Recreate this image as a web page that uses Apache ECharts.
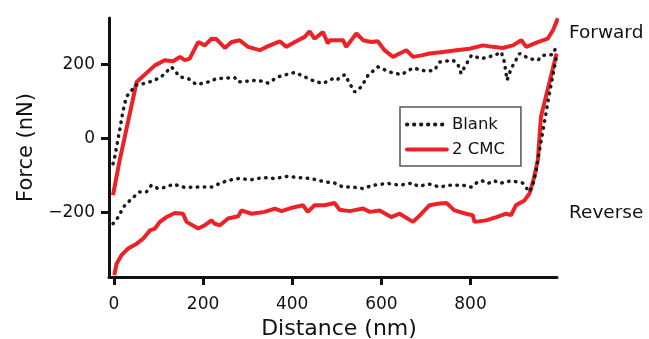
<!DOCTYPE html>
<html>
<head>
<meta charset="utf-8">
<script src="https://cdn.jsdelivr.net/npm/echarts@6/dist/echarts.min.js"></script>
<style>
html,body{margin:0;padding:0;background:#fff;}
#chart{width:649px;height:339px;}
</style>
</head>
<body>
<div id="chart"></div>
<script>
const xTicks = [0, 200, 400, 600, 800];
const yTicks = [-200, 0, 200];
const legendNames = ['Blank', '2 CMC'];

const blankForward = [[-2,-69],[2,-50],[13,22],[20,71],[28,112],[32,116],[43,134],[47,143],[69,148],[92,157],[110,170],[129,193],[148,166],[167,161],[185,145],[211,152],[230,161],[271,164],[279,152],[323,157],[346,149],[368,166],[406,178],[428,166],[450,154],[469,148],[491,161],[499,157],[518,172],[529,148],[540,125],[555,139],[570,170],[592,193],[619,179],[645,172],[671,190],[701,181],[719,184],[731,206],[760,211],[771,202],[779,175],[787,193],[802,224],[824,215],[854,224],[869,233],[876,206],[882,157],[891,188],[910,229],[932,215],[951,211],[962,224],[985,226],[994,253]];

const blankReverse = [[-2,-231],[10,-213],[21,-186],[40,-163],[58,-145],[73,-145],[84,-127],[99,-136],[118,-132],[133,-124],[159,-133],[189,-132],[219,-132],[238,-122],[256,-114],[279,-109],[309,-112],[335,-106],[361,-109],[387,-103],[413,-106],[443,-109],[473,-118],[495,-121],[514,-132],[536,-132],[559,-136],[581,-127],[615,-122],[641,-127],[671,-121],[682,-130],[708,-124],[731,-132],[753,-127],[783,-127],[802,-132],[813,-121],[824,-114],[839,-122],[854,-115],[865,-122],[891,-115],[917,-121],[932,-145],[938,-132],[947,-91],[951,-59],[977,121],[993,222]];

const cmcForward = [[-2,-154],[13,-59],[51,152],[92,197],[114,211],[133,208],[148,220],[159,211],[170,215],[189,260],[204,251],[219,269],[230,268],[249,244],[264,260],[282,265],[301,247],[327,238],[346,249],[372,262],[387,247],[409,262],[428,274],[439,289],[450,269],[469,287],[480,256],[484,265],[514,265],[521,247],[544,283],[559,265],[577,260],[592,262],[607,238],[626,220],[641,229],[656,238],[671,220],[690,224],[708,229],[738,233],[768,238],[798,242],[828,251],[850,247],[872,244],[895,251],[914,265],[925,247],[951,260],[973,269],[985,292],[996,324]];

const cmcReverse = [[1,-370],[6,-339],[17,-316],[32,-298],[51,-285],[66,-271],[81,-249],[92,-244],[103,-226],[118,-213],[137,-202],[155,-204],[163,-226],[189,-244],[204,-235],[219,-222],[226,-231],[238,-235],[256,-217],[279,-211],[286,-195],[309,-204],[338,-199],[361,-190],[376,-197],[402,-187],[424,-181],[435,-199],[450,-181],[473,-181],[495,-175],[506,-193],[529,-197],[559,-190],[574,-199],[596,-195],[622,-213],[641,-204],[671,-226],[690,-204],[708,-181],[727,-177],[746,-175],[764,-195],[790,-204],[805,-208],[809,-226],[835,-222],[858,-213],[880,-204],[891,-208],[902,-181],[921,-168],[932,-150],[941,-114],[951,-59],[958,58],[993,229]];

const FONT = 'DejaVu Sans';
const RED = '#ec2227';
const DOT = '#1a1a1a';

const redStyle = {color: RED, width: 4, type: 'solid'};
const dotStyle = {color: DOT, width: 3.5, type: [0.5, 6.5], cap: 'round'};

const chart = echarts.init(document.getElementById('chart'), null, {renderer: 'canvas'});
chart.setOption({
  animation: false,
  backgroundColor: '#fff',
  grid: {left: 109, right: 92, top: 18, bottom: 62, containLabel: false, outerBoundsMode: 'none'},
  legend: {
    data: legendNames,
    orient: 'vertical',
    left: 400, top: 107,
    itemWidth: 40, itemHeight: 14, itemGap: 8,
    padding: [9, 16, 8, 5],
    borderColor: '#555', borderWidth: 1.5, borderRadius: 0,
    itemStyle: {opacity: 0},
    lineStyle: {width: 3.8, cap: 'round'},
    textStyle: {fontFamily: FONT, fontSize: 16.5, color: '#111'}
  },
  xAxis: {
    type: 'value', min: -11, max: 994,
    name: 'Distance (nm)', nameLocation: 'middle', nameGap: 39,
    nameTextStyle: {fontFamily: FONT, fontSize: 22, color: '#111', padding: [0, 0, 0, 12]},
    axisLine: {show: true, onZero: false, lineStyle: {color: '#111', width: 3}},
    axisTick: {show: true, length: 8, lineStyle: {color: '#111', width: 3}, customValues: xTicks},
    axisLabel: {fontFamily: FONT, fontSize: 17, color: '#111', margin: 19, customValues: xTicks},
    splitLine: {show: false}
  },
  yAxis: {
    type: 'value', min: -375, max: 325,
    name: 'Force (nN)', nameLocation: 'middle', nameGap: 56,
    nameTextStyle: {fontFamily: FONT, fontSize: 21, color: '#111'},
    axisLine: {show: true, onZero: false, lineStyle: {color: '#111', width: 3}},
    axisTick: {show: true, length: 8, lineStyle: {color: '#111', width: 3}, customValues: yTicks},
    axisLabel: {fontFamily: FONT, fontSize: 17, color: '#111', margin: 14, customValues: yTicks,
      formatter: v => String(v).replace('-', '\u2212')},
    splitLine: {show: false}
  },
  series: [
    {name: '2 CMC', type: 'line', data: cmcForward, symbol: 'none', lineStyle: redStyle, itemStyle: {color: RED}},
    {name: '2 CMC', type: 'line', data: cmcReverse, symbol: 'none', lineStyle: redStyle, itemStyle: {color: RED}},
    {name: 'Blank', type: 'line', data: blankForward, symbol: 'none', lineStyle: dotStyle, itemStyle: {color: DOT}},
    {name: 'Blank', type: 'line', data: blankReverse, symbol: 'none', lineStyle: dotStyle, itemStyle: {color: DOT}}
  ],
  graphic: [
    {type: 'text', x: 569, y: 33, style: {text: 'Forward', fontFamily: FONT, fontSize: 18.5, fill: '#111', verticalAlign: 'middle'}},
    {type: 'text', x: 569, y: 213, style: {text: 'Reverse', fontFamily: FONT, fontSize: 18.5, fill: '#111', verticalAlign: 'middle'}}
  ]
});
</script>
</body>
</html>
